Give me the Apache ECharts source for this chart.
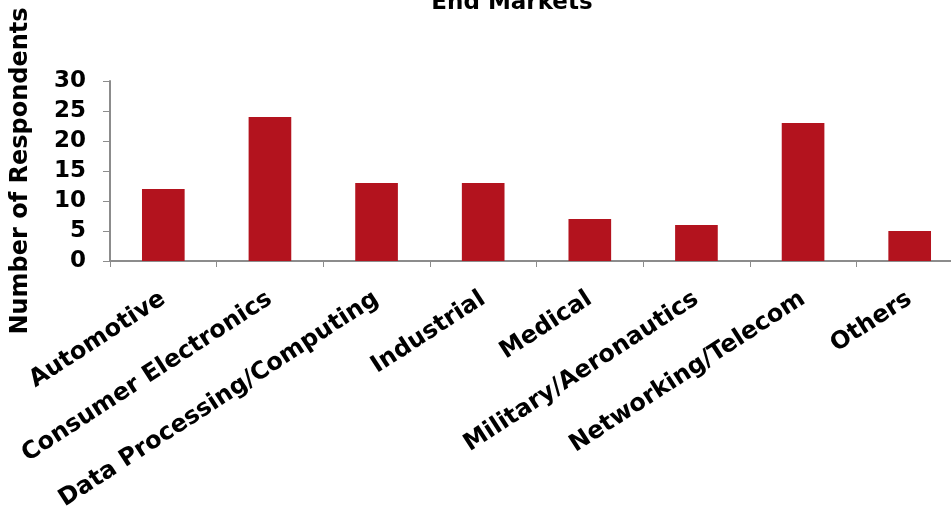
<!DOCTYPE html>
<html>
<head>
<meta charset="utf-8">
<script src="https://cdn.jsdelivr.net/npm/echarts@6/dist/echarts.min.js"></script>
<style>
  html, body { margin: 0; padding: 0; background: #ffffff; }
  #chart { width: 951px; height: 516px; }
</style>
</head>
<body>
<div id="chart"></div>
<script>
// End market categories and respondent counts
const categories = [
  'Automotive',
  'Consumer Electronics',
  'Data Processing/Computing',
  'Industrial',
  'Medical',
  'Military/Aeronautics',
  'Networking/Telecom',
  'Others'
];
const respondents = [12, 24, 13, 13, 7, 6, 23, 5];
const yTicks = [0, 5, 10, 15, 20, 25, 30];

const FONT = '"DejaVu Sans", Verdana, sans-serif';
const AXIS_GRAY = '#8c8c8c';

const chart = echarts.init(document.getElementById('chart'));
chart.setOption({
  animation: false,
  backgroundColor: '#ffffff',
  title: {
    text: 'End Markets',
    left: 507,
    top: -13,
    textAlign: 'center',
    textStyle: { fontFamily: FONT, fontWeight: 'bold', fontSize: 23, color: '#000' }
  },
  grid: {
    left: 110, top: 81, width: 853, height: 180,
    containLabel: false,
    outerBoundsMode: 'none'
  },
  xAxis: {
    type: 'category',
    data: categories,
    axisLine: { lineStyle: { color: AXIS_GRAY, width: 2 } },
    axisTick: { show: true, length: 6, lineStyle: { color: AXIS_GRAY, width: 1 } },
    axisLabel: {
      interval: 0,
      rotate: 33,
      margin: 36,
      fontFamily: FONT,
      fontWeight: 'bold',
      fontSize: 24,
      color: '#000'
    }
  },
  yAxis: {
    type: 'value',
    min: yTicks[0],
    max: yTicks[yTicks.length - 1],
    interval: 5,
    name: 'Number of Respondents',
    nameLocation: 'middle',
    nameGap: 77,
    nameTextStyle: { fontFamily: FONT, fontWeight: 'bold', fontSize: 24, color: '#000' },
    splitLine: { show: false },
    axisLine: { show: true, lineStyle: { color: AXIS_GRAY, width: 2 } },
    axisTick: { show: true, length: 7, lineStyle: { color: AXIS_GRAY, width: 1 } },
    axisLabel: {
      margin: 24,
      fontFamily: FONT,
      fontWeight: 'bold',
      fontSize: 23,
      color: '#000'
    }
  },
  series: [{
    type: 'bar',
    data: respondents,
    barWidth: '40%',
    itemStyle: { color: '#b3131e' }
  }]
});
</script>
</body>
</html>
